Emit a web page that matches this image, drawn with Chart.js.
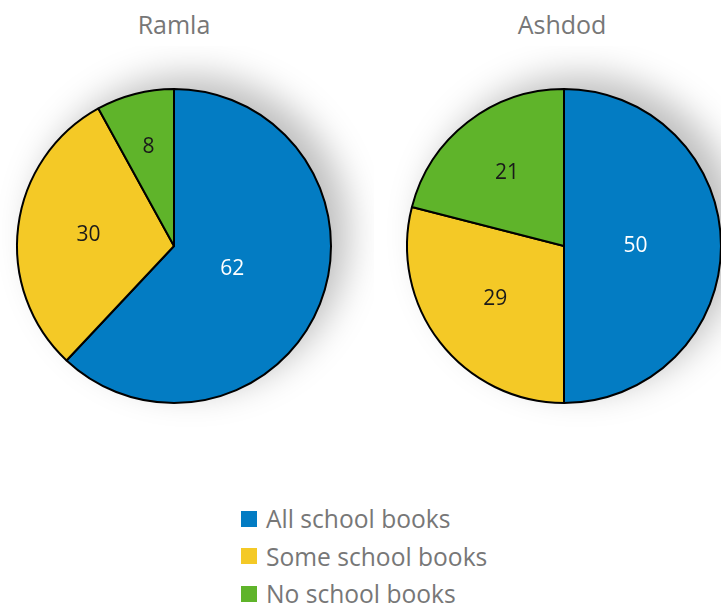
<!DOCTYPE html>
<html>
<head>
<meta charset="utf-8">
<script src="https://cdn.jsdelivr.net/npm/chart.js@4"></script>
<style>
  html, body {
    margin: 0;
    padding: 0;
    background: #fff;
    width: 721px;
    height: 609px;
    overflow: hidden;
    position: relative;
    font-family: "Open Sans", sans-serif;
  }
  .pie-title {
    position: absolute;
    top: 7px;
    width: 200px;
    text-align: center;
    font-size: 25px;
    color: #777;
  }
  .pie-box {
    position: absolute;
    top: 46px;
    width: 400px;
    height: 400px;
  }
  #chart-legend {
    position: absolute;
    left: 241px;
    top: 500px;
  }
  .legend-item {
    display: flex;
    align-items: center;
    height: 37.5px;
    font-size: 24.6px;
    color: #777;
  }
  .legend-box {
    display: inline-block;
    width: 16px;
    height: 16px;
    margin-right: 9px;
  }
</style>
</head>
<body>
<div class="pie-title" style="left:74px">Ramla</div>
<div class="pie-title" style="left:462px">Ashdod</div>
<div class="pie-box" style="left:-26px"><canvas id="ramlaChart"></canvas></div>
<div class="pie-box" style="left:364px"><canvas id="ashdodChart"></canvas></div>
<div id="chart-legend"></div>

<script>
// Answer categories and the share for each city
const categories = ["All school books", "Some school books", "No school books"];
const ramlaValues = [62, 30, 8];
const ashdodValues = [50, 29, 21];

const sliceColors = ["#037cc3", "#f4c926", "#5fb42a"];
const labelColors = ["#ffffff", "#1a1a1a", "#1a1a1a"];

// Soft drop shadow behind the whole pie
const pieShadow = {
  id: "pieShadow",
  beforeDatasetsDraw(chart) {
    const arc = chart.getDatasetMeta(0).data[0];
    if (!arc) return;
    const ctx = chart.ctx;
    ctx.save();
    ctx.shadowColor = "rgba(0, 0, 0, 0.26)";
    ctx.shadowBlur = 36;
    ctx.shadowOffsetX = 17;
    ctx.shadowOffsetY = -13;
    ctx.beginPath();
    ctx.arc(arc.x, arc.y, arc.outerRadius, 0, Math.PI * 2);
    ctx.fillStyle = "#fff";
    ctx.fill();
    ctx.restore();
  },
};

// Value printed inside each slice, bigger slices sit closer to the middle
const sliceLabels = {
  id: "sliceLabels",
  afterDatasetsDraw(chart) {
    const ctx = chart.ctx;
    const data = chart.data.datasets[0].data;
    const total = data.reduce((a, b) => a + b, 0);
    ctx.save();
    ctx.font = "21px 'Open Sans'";
    ctx.textAlign = "center";
    ctx.textBaseline = "middle";
    chart.getDatasetMeta(0).data.forEach((arc, i) => {
      const share = data[i] / total;
      const mid = (arc.startAngle + arc.endAngle) / 2;
      const dist = arc.outerRadius * (0.69 - 0.47 * share);
      ctx.fillStyle = labelColors[i];
      ctx.fillText(data[i], arc.x + Math.cos(mid) * dist, arc.y + Math.sin(mid) * dist);
    });
    ctx.restore();
  },
};

function makePie(id, values) {
  new Chart(document.getElementById(id).getContext("2d"), {
    type: "pie",
    data: {
      labels: categories,
      datasets: [
        {
          data: values,
          backgroundColor: sliceColors,
          borderColor: "#000",
          borderWidth: 2,
        },
      ],
    },
    options: {
      responsive: true,
      maintainAspectRatio: false,
      animation: false,
      layout: { padding: 42 },
      plugins: {
        legend: { display: false },
        tooltip: { enabled: false },
      },
    },
    plugins: [pieShadow, sliceLabels],
  });
}

makePie("ramlaChart", ramlaValues);
makePie("ashdodChart", ashdodValues);

// Legend below both pies
document.getElementById("chart-legend").innerHTML = categories
  .map(
    (label, i) => `
      <div class="legend-item">
        <span class="legend-box" style="background:${sliceColors[i]}"></span>
        <span>${label}</span>
      </div>`
  )
  .join("");
</script>
</body>
</html>
